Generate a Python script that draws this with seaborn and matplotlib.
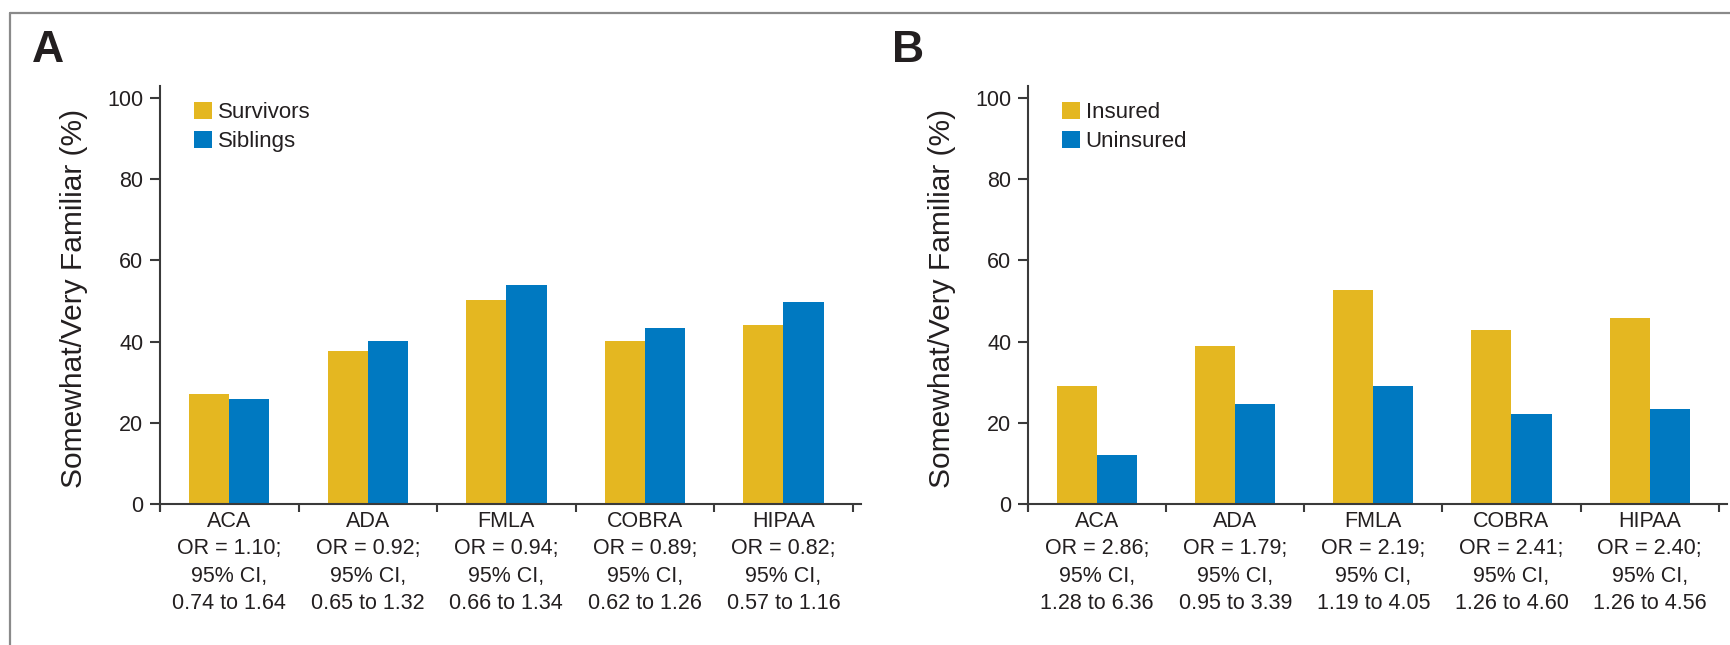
import matplotlib
matplotlib.use('Agg')
import matplotlib.pyplot as plt
import seaborn as sns
import pandas as pd
from matplotlib.lines import Line2D

# ---- data ----
laws = ['ACA', 'ADA', 'FMLA', 'COBRA', 'HIPAA']
survivors = [27.1, 37.8, 50.2, 40.2, 44.0]
siblings = [25.9, 40.2, 54.0, 43.4, 49.7]
insured = [29.1, 39.0, 52.7, 42.8, 45.9]
uninsured = [12.1, 24.7, 29.1, 22.2, 23.4]
or_a = ['1.10', '0.92', '0.94', '0.89', '0.82']
ci_a = ['0.74 to 1.64', '0.65 to 1.32', '0.66 to 1.34', '0.62 to 1.26', '0.57 to 1.16']
or_b = ['2.86', '1.79', '2.19', '2.41', '2.40']
ci_b = ['1.28 to 6.36', '0.95 to 3.39', '1.19 to 4.05', '1.26 to 4.60', '1.26 to 4.56']
yticks = [0, 20, 40, 60, 80, 100]
ylabel = 'Somewhat/Very Familiar (%)'

YELLOW = '#E4B721'
BLUE = '#0079C1'
TXT = '#231F20'
AXC = '#3A3A3A'

sns.set_theme(style='white')
plt.rcParams['font.family'] = ['Liberation Sans', 'DejaVu Sans']
plt.rcParams['text.color'] = TXT

W, H = 1730, 645
fig = plt.figure(figsize=(W / 100, H / 100), dpi=100)


def panel(left_px, width_px, n1, v1, n2, v2, ors, cis, letter, letter_x):
    bottom_px = 510
    top_px = 86
    ax = fig.add_axes([left_px / W, (H - bottom_px) / H, width_px / W, (bottom_px - top_px) / H])
    df = pd.DataFrame({'law': laws * 2, 'pct': v1 + v2, 'group': [n1] * len(laws) + [n2] * len(laws)})
    sns.barplot(data=df, x='law', y='pct', hue='group', order=laws, hue_order=[n1, n2],
                palette=[YELLOW, BLUE], width=0.58, saturation=1, linewidth=0,
                errorbar=None, ax=ax)
    ax.set_xlim(-0.5, 4.56)
    ax.set_ylim(-1.5, 103)
    for s in ['top', 'right']:
        ax.spines[s].set_visible(False)
    for s in ['left', 'bottom']:
        ax.spines[s].set_color(AXC)
        ax.spines[s].set_linewidth(1.5)
    ax.spines['bottom'].set_position(('data', 0))

    ax.set_yticks(yticks)
    ax.set_yticklabels([str(t) for t in yticks])
    ax.tick_params(axis='y', direction='out', length=7, width=1.5, color=AXC,
                   pad=5, labelsize=15.5, labelcolor=TXT, left=True)
    ax.set_xticks(range(len(laws)))
    ax.set_xticklabels([f'{l}\nOR = {o};\n95% CI,\n{c}' for l, o, c in zip(laws, ors, cis)])
    ax.tick_params(axis='x', which='major', length=0, pad=5, labelsize=15.5, labelcolor=TXT, bottom=True)
    ax.set_xticks([i - 0.5 for i in range(len(laws) + 1)], minor=True)
    ax.tick_params(axis='x', which='minor', direction='out', length=6, width=1.5, color=AXC, bottom=True)
    for t in ax.get_xticklabels():
        t.set_linespacing(1.4)

    ax.set_xlabel('')
    ax.set_ylabel(ylabel, fontsize=21.5, color=TXT)
    ax.yaxis.set_label_coords(-0.103, 0.5)

    handles, labels = ax.get_legend_handles_labels()
    ax.legend(handles, labels, loc='upper left', bbox_to_anchor=(0.0485, 0.962),
              frameon=False, fontsize=16, handlelength=0.82, handleheight=0.82,
              handletextpad=0.25, labelspacing=0.33, borderpad=0, borderaxespad=0)

    fig.text(letter_x / W, 1 - 62 / H, letter, fontsize=32, fontweight='bold',
             ha='left', va='baseline', color=TXT)
    return ax


panel(160, 701, 'Survivors', survivors, 'Siblings', siblings, or_a, ci_a, 'A', 32)
panel(1028, 699, 'Insured', insured, 'Uninsured', uninsured, or_b, ci_b, 'B', 892)

# outer frame (top and left visible)
fig.add_artist(Line2D([10 / W, 1.0], [1 - 13 / H, 1 - 13 / H], transform=fig.transFigure,
                      color='#8A8A8A', lw=1.6))
fig.add_artist(Line2D([10 / W, 10 / W], [0.0, 1 - 13 / H], transform=fig.transFigure,
                      color='#8A8A8A', lw=1.6))

fig.savefig('out.png', dpi=100)
